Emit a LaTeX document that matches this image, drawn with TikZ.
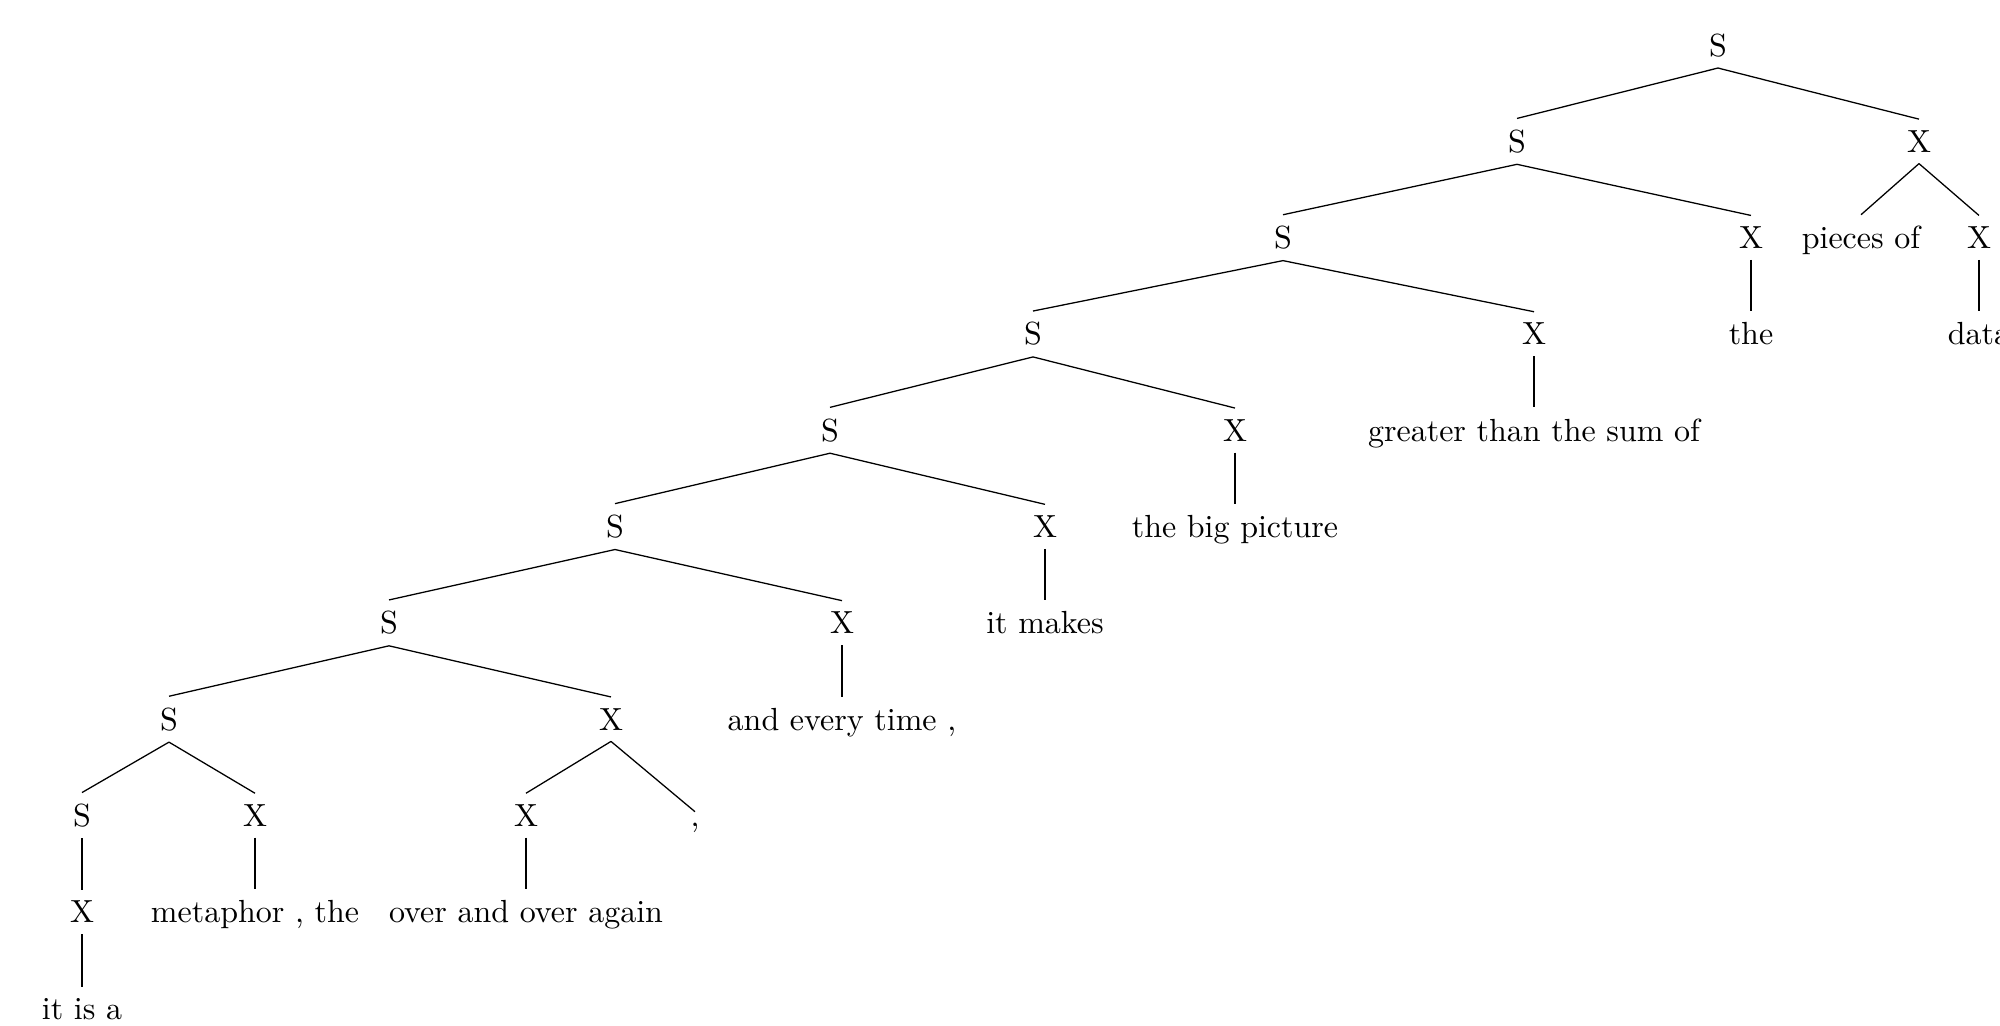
\documentclass[tikz,border=0pt]{standalone}
\begin{document}
\begin{tikzpicture}[x=0.3125pt,y=-0.3125pt,
  tn/.style={anchor=base,inner sep=3.333pt}]
\useasboundingbox (0,0) rectangle (2000,1025);
\clip (0,0) rectangle (2000,1025);
% level 0
\node[tn] (n0) at (1718,56) {S};
% level 1
\node[tn] (n1) at (1517,152.3) {S};
\node[tn] (n1x) at (1919,152.3) {X};
% level 2
\node[tn] (n2) at (1283,248.6) {S};
\node[tn] (n2x) at (1751,248.6) {X};
\node[tn] (pieces) at (1861,248.6) {pieces of};
\node[tn] (n2y) at (1979,248.6) {X};
% level 3
\node[tn] (n3) at (1033,344.9) {S};
\node[tn] (n3x) at (1534,344.9) {X};
\node[tn] (the) at (1751,344.9) {the};
\node[tn] (data) at (1979,344.9) {data};
% level 4
\node[tn] (n4) at (830,441.2) {S};
\node[tn] (n4x) at (1235,441.2) {X};
\node[tn] (greater) at (1534,441.2) {greater than the sum of};
% level 5
\node[tn] (n5) at (615,537.5) {S};
\node[tn] (n5x) at (1045,537.5) {X};
\node[tn] (bigpic) at (1235,537.5) {the big picture};
% level 6
\node[tn] (n6) at (389,633.8) {S};
\node[tn] (n6x) at (842,633.8) {X};
\node[tn] (itmakes) at (1045,633.8) {it makes};
% level 7
\node[tn] (n7) at (169,730.1) {S};
\node[tn] (n7x) at (611,730.1) {X};
\node[tn] (every) at (842,730.1) {and every time ,};
% level 8
\node[tn] (n8) at (82,826.4) {S};
\node[tn] (n8x) at (255,826.4) {X};
\node[tn] (n8y) at (526,826.4) {X};
\node[tn] (comma) at (695,826.4) {,};
% level 9
\node[tn] (n9) at (82,922.7) {X};
\node[tn] (metaphor) at (255,922.7) {metaphor , the};
\node[tn] (over) at (526,922.7) {over and over again};
% level 10
\node[tn] (itisa) at (82,1019) {it is a};
% edges
\draw (n0.south) -- (n1.north);
\draw (n0.south) -- (n1x.north);
\draw (n1.south) -- (n2.north);
\draw (n1.south) -- (n2x.north);
\draw (n1x.south) -- (pieces.north);
\draw (n1x.south) -- (n2y.north);
\draw (n2.south) -- (n3.north);
\draw (n2.south) -- (n3x.north);
\draw (n2x.south) -- (the.north);
\draw (n2y.south) -- (data.north);
\draw (n3.south) -- (n4.north);
\draw (n3.south) -- (n4x.north);
\draw (n3x.south) -- (greater.north);
\draw (n4.south) -- (n5.north);
\draw (n4.south) -- (n5x.north);
\draw (n4x.south) -- (bigpic.north);
\draw (n5.south) -- (n6.north);
\draw (n5.south) -- (n6x.north);
\draw (n5x.south) -- (itmakes.north);
\draw (n6.south) -- (n7.north);
\draw (n6.south) -- (n7x.north);
\draw (n6x.south) -- (every.north);
\draw (n7.south) -- (n8.north);
\draw (n7.south) -- (n8x.north);
\draw (n7x.south) -- (n8y.north);
\draw (n7x.south) -- (comma.north);
\draw (n8.south) -- (n9.north);
\draw (n8x.south) -- (metaphor.north);
\draw (n8y.south) -- (over.north);
\draw (n9.south) -- (itisa.north);
\end{tikzpicture}
\end{document}
